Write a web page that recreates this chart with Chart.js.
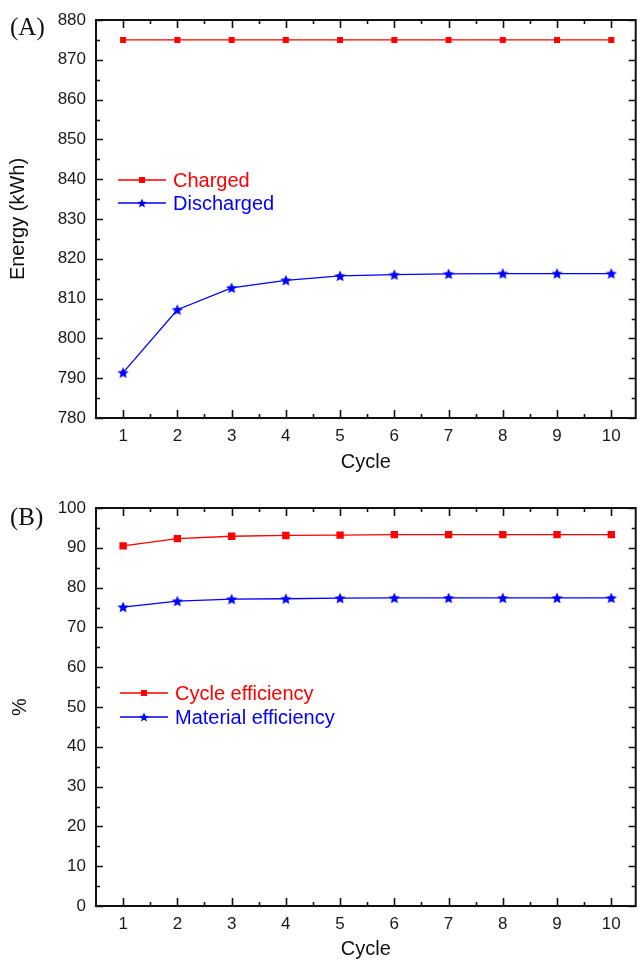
<!DOCTYPE html>
<html>
<head>
<meta charset="utf-8">
<script src="https://cdn.jsdelivr.net/npm/chart.js@4"></script>
<style>
  body { margin: 0; background: #fff; }
  #wrap { position: relative; width: 638px; height: 959px; overflow: hidden; }
  canvas { position: absolute; left: 0; }
  .tag { position: absolute; font-family: "Liberation Serif", "Times New Roman", serif; font-size: 25px; line-height: 1; color: #111; }
</style>
</head>
<body>
<div id="wrap">
  <!-- canvases a bit wider than the page: chart.js keeps room for the edge markers -->
  <canvas id="chartA" width="643" height="480" style="top:0"></canvas>
  <canvas id="chartB" width="643" height="479" style="top:480px"></canvas>
  <div class="tag" style="left:10px; top:14px">(A)</div>
  <div class="tag" style="left:10px; top:504px">(B)</div>
</div>
<script>
// ---- data ----
const cycles = [1, 2, 3, 4, 5, 6, 7, 8, 9, 10];
const charged = [875, 875, 875, 875, 875, 875, 875, 875, 875, 875];
const discharged = [791.4, 807.2, 812.7, 814.6, 815.7, 816.0, 816.2, 816.3, 816.3, 816.3];
const cycleEff = [90.5, 92.3, 92.9, 93.1, 93.2, 93.3, 93.3, 93.3, 93.3, 93.3];
const materialEff = [75.1, 76.6, 77.1, 77.2, 77.35, 77.4, 77.4, 77.4, 77.4, 77.4];

const FONT = '"Liberation Sans", Arial, sans-serif';
const RED = '#ff0000';
const BLUE = '#0000ff';

function makeStar(size, color) {
  const c = document.createElement('canvas');
  c.width = size; c.height = size;
  const g = c.getContext('2d');
  const cx = size / 2, cy = size / 2 + 0.5, ro = size / 2, ri = ro * 0.45;
  g.beginPath();
  for (let i = 0; i < 10; i++) {
    const r = i % 2 ? ri : ro;
    const a = -Math.PI / 2 + i * Math.PI / 5;
    g.lineTo(cx + r * Math.cos(a), cy + r * Math.sin(a));
  }
  g.closePath();
  g.fillStyle = color;
  g.fill();
  return c;
}

function pairs(ys) {
  return cycles.map((x, i) => ({ x: x, y: ys[i] }));
}

/*******************************************************
 * frame + inward ticks + legend
 *******************************************************/
const frameTicks = {
  id: 'frameTicks',
  afterDraw(chart, args, opts) {
    const { ctx, chartArea: a, scales } = chart;
    const xs = scales.x, ys = scales.y;
    ctx.save();
    ctx.strokeStyle = '#111';
    ctx.lineWidth = 2;
    ctx.strokeRect(a.left, a.top, a.right - a.left, a.bottom - a.top);

    ctx.lineWidth = 1.6;
    ctx.beginPath();
    // x ticks (bottom + top)
    for (let v = 1; v <= 10; v += 0.5) {
      const px = Math.round(xs.getPixelForValue(v)) + 0.5;
      const len = Number.isInteger(v) ? 8 : 4;
      ctx.moveTo(px, a.bottom); ctx.lineTo(px, a.bottom - len);
      ctx.moveTo(px, a.top); ctx.lineTo(px, a.top + len);
    }
    // y ticks (left + right)
    const step = opts.yStep / 2;
    for (let v = ys.min; v <= ys.max + 1e-6; v += step) {
      const py = Math.round(ys.getPixelForValue(v)) + 0.5;
      const major = Math.abs((v - ys.min) / opts.yStep - Math.round((v - ys.min) / opts.yStep)) < 1e-6;
      const len = major ? 7 : 4;
      ctx.moveTo(a.left, py); ctx.lineTo(a.left + len, py);
      ctx.moveTo(a.right, py); ctx.lineTo(a.right - len, py);
    }
    ctx.stroke();

    // legend
    ctx.font = '20px ' + FONT;
    ctx.textBaseline = 'middle';
    chart.data.datasets.forEach((ds, i) => {
      const y = opts.legendY[i];
      const x0 = opts.legendX;
      ctx.strokeStyle = ds.borderColor;
      ctx.lineWidth = 1.3;
      ctx.beginPath();
      ctx.moveTo(x0, y); ctx.lineTo(x0 + 48, y);
      ctx.stroke();
      const mx = x0 + 24;
      if (ds.pointStyle === 'rect') {
        ctx.fillStyle = ds.borderColor;
        ctx.fillRect(mx - 3, y - 3, 6, 6);
      } else {
        const s = opts.legendStar;
        ctx.drawImage(s, mx - s.width / 2, y - s.height / 2);
      }
      ctx.fillStyle = ds.borderColor;
      ctx.textAlign = 'left';
      ctx.fillText(ds.label, x0 + 55, y + 1);
    });
    ctx.restore();
  }
};

function buildChart(canvasId, cfg) {
  const ctx = document.getElementById(canvasId).getContext('2d');
  return new Chart(ctx, {
    type: 'line',
    data: {
      datasets: [{
        label: cfg.labels[0],
        data: pairs(cfg.series[0]),
        borderColor: RED,
        backgroundColor: RED,
        borderWidth: 1.3,
        pointStyle: 'rect',
        pointRadius: cfg.rectR,
        pointHoverRadius: cfg.rectR,
        pointBorderWidth: 0,
        fill: false,
        tension: 0
      }, {
        label: cfg.labels[1],
        data: pairs(cfg.series[1]),
        borderColor: BLUE,
        backgroundColor: BLUE,
        borderWidth: 1.3,
        pointStyle: makeStar(12, BLUE),
        pointRadius: 6,
        pointHoverRadius: 6,
        fill: false,
        tension: 0
      }]
    },
    options: {
      responsive: false,
      animation: false,
      events: [],
      layout: { padding: { top: cfg.padTop, right: 0, left: 0, bottom: 0 } },
      plugins: {
        legend: { display: false },
        tooltip: { enabled: false },
        frameTicks: {
          yStep: cfg.yStep,
          legendX: cfg.legendX,
          legendY: cfg.legendY,
          legendStar: makeStar(10, BLUE)
        }
      },
      scales: {
        x: {
          type: 'linear',
          min: 0.5,
          max: 10.45,
          afterBuildTicks: s => { s.ticks = cycles.map(v => ({ value: v })); },
          afterFit: s => {
            s.height = cfg.xAxisH;
            s.paddingLeft = 0; s.paddingRight = 0;
          },
          grid: { display: false, drawTicks: false },
          border: { display: false },
          ticks: { padding: 8, autoSkip: false, maxRotation: 0, color: '#1a1a1a', font: { family: FONT, size: 17 } },
          title: {
            display: true, text: 'Cycle', color: '#111',
            font: { family: FONT, size: 20, lineHeight: 1 },
            padding: { top: 0, bottom: cfg.xTitlePad }
          }
        },
        y: {
          type: 'linear',
          min: cfg.yMin,
          max: cfg.yMax,
          afterFit: s => {
            s.width = 96;
            s.paddingTop = 0; s.paddingBottom = 0;
          },
          grid: { display: false, drawTicks: false },
          border: { display: false },
          ticks: { stepSize: cfg.yStep, padding: 10, color: '#1a1a1a', font: { family: FONT, size: 17 } },
          title: {
            display: true, text: cfg.yTitle, color: '#111',
            font: { family: FONT, size: 20, lineHeight: 1 },
            padding: { top: cfg.yTitlePad, bottom: 0 }
          }
        }
      }
    },
    plugins: [frameTicks]
  });
}

buildChart('chartA', {
  labels: ['Charged', 'Discharged'],
  series: [charged, discharged],
  yMin: 780, yMax: 880, yStep: 10,
  yTitle: 'Energy (kWh)',
  padTop: 20, xAxisH: 62, xTitlePad: 8, yTitlePad: 8,
  rectR: 4.25,
  legendX: 118, legendY: [180, 203]
});

buildChart('chartB', {
  labels: ['Cycle efficiency', 'Material efficiency'],
  series: [cycleEff, materialEff],
  yMin: 0, yMax: 100, yStep: 10,
  yTitle: '%',
  padTop: 28, xAxisH: 53, xTitlePad: 0, yTitlePad: 10,
  rectR: 5.2,
  legendX: 120, legendY: [693, 717].map(v => v - 480)
});
</script>
</body>
</html>
